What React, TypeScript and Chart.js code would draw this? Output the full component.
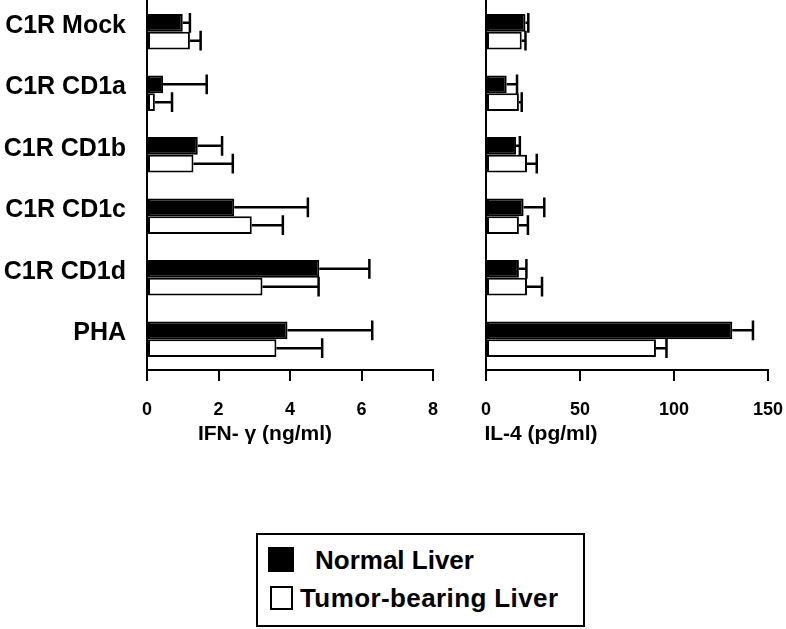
import React, { useEffect, useRef } from "react";
import { Chart, registerables } from "chart.js";
Chart.register(...registerables);

const FONT = "'Liberation Sans', Arial, Helvetica, sans-serif";

const categories = ["C1R Mock", "C1R CD1a", "C1R CD1b", "C1R CD1c", "C1R CD1d", "PHA"];
const seriesNames = ["Normal Liver", "Tumor-bearing Liver"];

const ifnNormal = [1.0, 0.45, 1.42, 2.44, 4.82, 3.93];
const ifnNormalErr = [0.2, 1.22, 0.68, 2.06, 1.4, 2.37];
const ifnTumor = [1.2, 0.22, 1.3, 2.93, 3.23, 3.62];
const ifnTumorErr = [0.3, 0.48, 1.1, 0.87, 1.57, 1.28];

const il4Normal = [21, 11, 16, 20, 17.5, 131];
const il4NormalErr = [1.5, 5.5, 2, 11, 4, 11];
const il4Tumor = [19, 17.5, 21.8, 17.5, 21.8, 90.4];
const il4TumorErr = [2, 1.5, 5.2, 4.8, 8, 5.6];

const ifnTicks = [0, 2, 4, 6, 8];
const il4Ticks = [0, 50, 100, 150];

const ifnTitle = "IFN- γ (ng/ml)";
const il4Title = "IL-4 (pg/ml)";

function errorBarPlugin(errors: number[][]) {
  return {
    id: "errorBars",
    afterDatasetsDraw(chart: any) {
      const ctx = chart.ctx;
      const xScale = chart.scales.x;
      ctx.save();
      ctx.strokeStyle = "#000";
      ctx.lineWidth = 2.5;
      chart.data.datasets.forEach((ds: any, i: number) => {
        const meta = chart.getDatasetMeta(i);
        meta.data.forEach((bar: any, j: number) => {
          const v = ds.data[j];
          const e = errors[i][j];
          const x0 = bar.x;
          const x1 = xScale.getPixelForValue(v + e);
          const y = bar.y;
          const half = bar.height / 2 + 1;
          ctx.beginPath();
          ctx.moveTo(x0, y);
          ctx.lineTo(x1, y);
          ctx.moveTo(x1, y - half);
          ctx.lineTo(x1, y + half);
          ctx.stroke();
        });
      });
      ctx.restore();
    },
  };
}

function titlePlugin(text: string, offsetFromLeft: number, y: number) {
  return {
    id: "axisTitleText",
    afterDraw(chart: any) {
      const ctx = chart.ctx;
      ctx.save();
      ctx.font = `bold 21px ${FONT}`;
      ctx.fillStyle = "#000";
      ctx.textAlign = "center";
      ctx.textBaseline = "middle";
      ctx.fillText(text, chart.chartArea.left + offsetFromLeft, y);
      ctx.restore();
    },
  };
}

function buildConfig(
  normal: number[],
  tumor: number[],
  errs: number[][],
  ticks: number[],
  yWidth: number,
  showLabels: boolean,
  rightPad: number,
  title: string,
  titleOffset: number
): any {
  return {
    type: "bar",
    data: {
      labels: categories,
      datasets: [
        {
          label: seriesNames[0],
          data: normal,
          backgroundColor: "#000",
          borderColor: "#000",
          borderWidth: 2,
          borderSkipped: false,
          categoryPercentage: 0.58,
          barPercentage: 1,
        },
        {
          label: seriesNames[1],
          data: tumor,
          backgroundColor: "#fff",
          borderColor: "#000",
          borderWidth: 2,
          borderSkipped: false,
          categoryPercentage: 0.58,
          barPercentage: 1,
        },
      ],
    },
    options: {
      indexAxis: "y",
      responsive: false,
      animation: false,
      layout: { padding: { top: 1, right: rightPad, left: 0, bottom: 0 } },
      plugins: { legend: { display: false }, tooltip: { enabled: false } },
      scales: {
        x: {
          type: "linear",
          min: ticks[0],
          max: ticks[ticks.length - 1],
          ticks: {
            stepSize: ticks[1] - ticks[0],
            color: "#000",
            font: { family: FONT, size: 18, weight: "bold" },
            padding: 18,
            maxRotation: 0,
          },
          grid: {
            display: true,
            drawOnChartArea: false,
            drawTicks: true,
            tickLength: 11,
            color: "#000",
            lineWidth: 2,
          },
          border: { display: true, color: "#000", width: 2 },
          afterFit: (s: any) => {
            s.height = 90;
            s.paddingLeft = 0;
            s.paddingRight = 0;
            s.paddingTop = 0;
            s.paddingBottom = 0;
          },
        },
        y: {
          type: "category",
          offset: true,
          ticks: {
            display: showLabels,
            color: "#000",
            font: { family: FONT, size: 25, weight: "bold" },
            padding: 21,
            labelOffset: -6,
          },
          grid: { display: true, drawOnChartArea: false, drawTicks: false, color: "#000" },
          border: { display: true, color: "#000", width: 2 },
          afterFit: (s: any) => {
            s.width = yWidth;
            s.paddingLeft = 0;
            s.paddingRight = 0;
            s.paddingTop = 0;
            s.paddingBottom = 0;
          },
        },
      },
    },
    plugins: [errorBarPlugin(errs), titlePlugin(title, titleOffset, 434)],
  };
}

export default function App() {
  const leftRef = useRef<HTMLCanvasElement>(null);
  const rightRef = useRef<HTMLCanvasElement>(null);

  useEffect(() => {
    const left = new Chart(
      leftRef.current as HTMLCanvasElement,
      buildConfig(ifnNormal, ifnTumor, [ifnNormalErr, ifnTumorErr], ifnTicks, 147, true, 17, ifnTitle, 118)
    );
    const right = new Chart(
      rightRef.current as HTMLCanvasElement,
      buildConfig(il4Normal, il4Tumor, [il4NormalErr, il4TumorErr], il4Ticks, 36, false, 18, il4Title, 55)
    );
    return () => {
      left.destroy();
      right.destroy();
    };
  }, []);

  const textStyle: React.CSSProperties = {
    position: "absolute",
    fontFamily: FONT,
    fontWeight: "bold",
    fontSize: 26,
    lineHeight: "30px",
    whiteSpace: "nowrap",
    color: "#000",
  };

  return (
    <div style={{ position: "absolute", left: 0, top: 0, width: 786, height: 629, background: "#fff" }}>
      <canvas ref={leftRef} width={450} height={460} style={{ position: "absolute", left: 0, top: 0 }} />
      <canvas ref={rightRef} width={336} height={460} style={{ position: "absolute", left: 450, top: 0 }} />
      <div
        style={{
          position: "absolute",
          left: 256,
          top: 533,
          width: 329,
          height: 94,
          boxSizing: "border-box",
          border: "2px solid #000",
        }}
      >
        <div style={{ position: "absolute", left: 10, top: 12, width: 26, height: 25, background: "#000" }} />
        <div style={{ ...textStyle, left: 57, top: 10 }}>{seriesNames[0]}</div>
        <div
          style={{
            position: "absolute",
            left: 12,
            top: 51,
            width: 23,
            height: 24,
            boxSizing: "border-box",
            border: "2px solid #000",
            background: "#fff",
          }}
        />
        <div style={{ ...textStyle, left: 42, top: 48, letterSpacing: 0.4 }}>{seriesNames[1]}</div>
      </div>
    </div>
  );
}
